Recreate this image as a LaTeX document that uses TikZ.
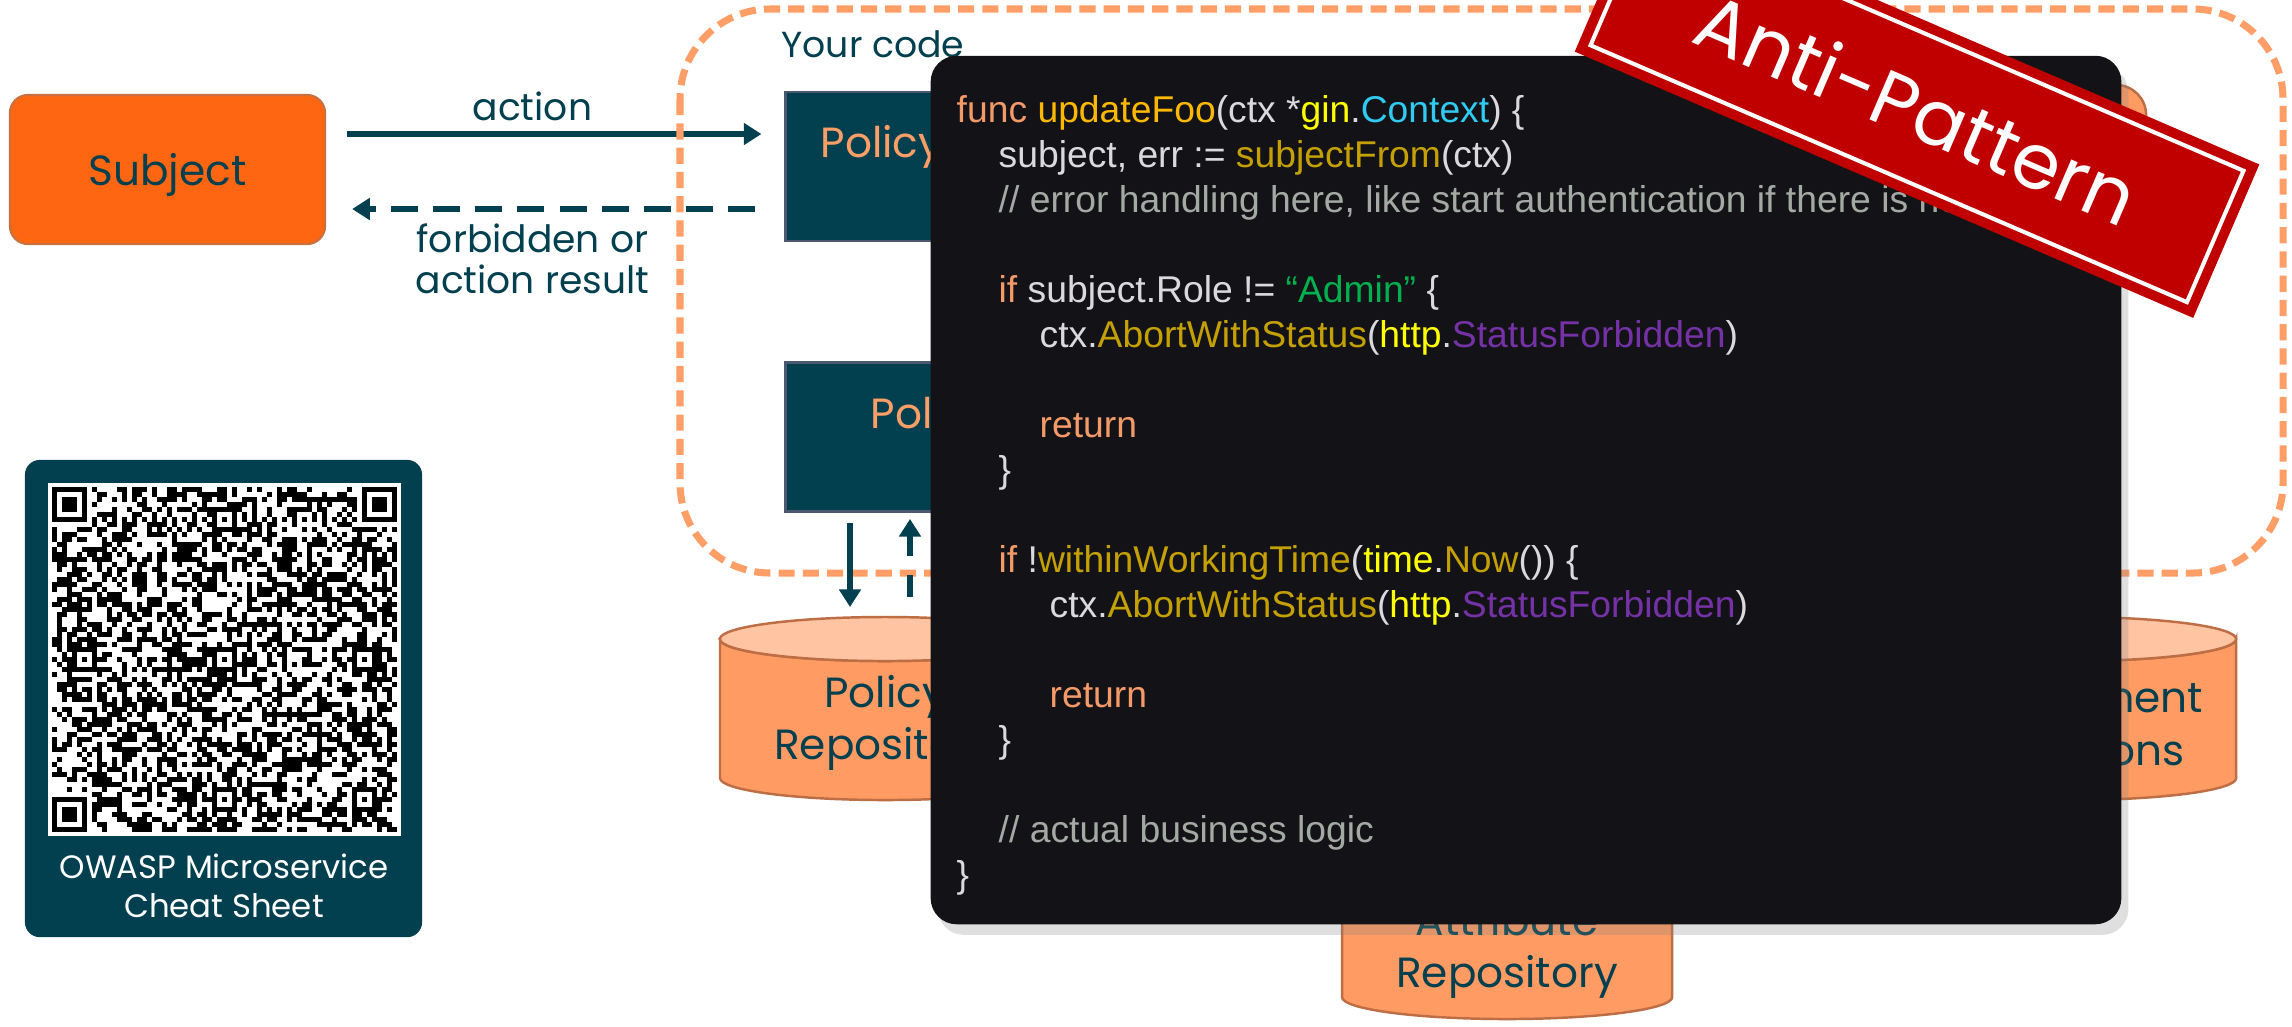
\documentclass[tikz,border=0pt]{standalone}
\usepackage{fontspec}
\setmainfont{Poppins}
\newfontfamily\codefont{Liberation Sans}
\usetikzlibrary{arrows.meta,shadows}

\definecolor{ink}{HTML}{03404F}
\definecolor{subjfill}{HTML}{FF6612}
\definecolor{subjline}{HTML}{C8703E}
\definecolor{peach}{HTML}{FF9E66}
\definecolor{cylbody}{HTML}{FF9B63}
\definecolor{cyltop}{HTML}{FFC4A2}
\definecolor{cylline}{HTML}{BE6E44}
\definecolor{boxline}{HTML}{4C5770}
\definecolor{cardbg}{HTML}{131317}
\definecolor{stampred}{HTML}{C00000}
\definecolor{gokw}{HTML}{F49A68}
\definecolor{gofn}{HTML}{FFB800}
\definecolor{gocall}{HTML}{C4A100}
\definecolor{gopkg}{HTML}{FFFF00}
\definecolor{gotyp}{HTML}{30CBF2}
\definecolor{gostr}{HTML}{00B050}
\definecolor{gocnst}{HTML}{7531A6}
\definecolor{gocmt}{HTML}{A3AAA3}
\definecolor{goplain}{HTML}{D9D9DE}

\newcommand{\gokw}[1]{\textcolor{gokw}{#1}}
\newcommand{\gofn}[1]{\textcolor{gofn}{#1}}
\newcommand{\gocall}[1]{\textcolor{gocall}{#1}}
\newcommand{\gopkg}[1]{\textcolor{gopkg}{#1}}
\newcommand{\gotyp}[1]{\textcolor{gotyp}{#1}}
\newcommand{\gostr}[1]{\textcolor{gostr}{#1}}
\newcommand{\gocnst}[1]{\textcolor{gocnst}{#1}}
\newcommand{\gocmt}[1]{\textcolor{gocmt}{#1}}

\begin{document}
\begin{tikzpicture}[x=0.01cm, y=-0.01cm,
    flow/.style={draw=ink, line width=1.7pt, -{Triangle[length=5pt,width=6pt]}},
    lbl/.style={text=ink, align=center, font=\fontsize{10.7}{11.7}\selectfont},
    subjbox/.style={fill=subjfill, draw=subjline, line width=0.6pt, rounded corners=0.18cm,
      minimum width=3.15cm, minimum height=1.49cm, text=ink, text depth=0pt, font=\fontsize{12}{15}\selectfont},
    pbox/.style={fill=ink, draw=boxline, line width=0.8pt, minimum width=5.14cm, minimum height=1.49cm},
    ptxt/.style={anchor=west, inner sep=0pt, text=peach, font=\fontsize{12}{15}\selectfont},
    cylside/.style={fill=cylbody, draw=cylline, line width=0.7pt},
    cyllid/.style={fill=cyltop, draw=cylline, line width=0.7pt},
    repotxt/.style={text=ink, align=center, inner sep=0pt, font=\fontsize{12}{15}\selectfont},
    code/.style={anchor=base west, inner sep=0pt, text=goplain, font=\codefont\fontsize{10.6}{12}\selectfont},
    stamp/.style={fill=stampred, minimum width=6.73cm, minimum height=1.67cm, inner sep=0pt,
      text=white, font=\fontsize{22}{26}\selectfont}]
  \useasboundingbox (0,0) rectangle (2292,1026);
  \fill[white] (0,0) rectangle (2292,1026);

  \node[fill=ink, rounded corners=0.15cm, minimum width=3.97cm, minimum height=4.77cm] (qr) at (223.5,698.5) {};
  \fill[white] (48,483) rectangle (401,836);
  \begin{scope}[shift={(52,487)}]
    \pgfmathsetseed{4711}
    \foreach \r in {0,...,68} {
      \foreach \c in {0,...,68} {
        \pgfmathparse{rnd<0.5}
        \ifdim\pgfmathresult pt>0.5pt \fill (\c*5,\r*5) rectangle ++(5.3,5.3);\fi
      }
    }
    \foreach \k in {8,10,...,60} {
      \fill (\k*5,30) rectangle ++(5.3,5.3);
      \fill (30,\k*5) rectangle ++(5.3,5.3);
    }
    \foreach \k in {9,11,...,59} {
      \fill[white] (\k*5,30) rectangle ++(5,5);
      \fill[white] (30,\k*5) rectangle ++(5,5);
    }
    \foreach \ac/\ar in {34/6, 6/34, 34/34, 62/34, 34/62, 62/62} {
      \fill (\ac*5-10,\ar*5-10) rectangle ++(25,25);
      \fill[white] (\ac*5-5,\ar*5-5) rectangle ++(15,15);
      \fill (\ac*5,\ar*5) rectangle ++(5,5);
    }
    \foreach \fc/\fr/\sc/\sr in {0/0/0/0, 62/0/61/0, 0/62/0/61} {
      \fill[white] (\sc*5,\sr*5) rectangle ++(40,40);
      \fill (\fc*5,\fr*5) rectangle ++(35,35);
      \fill[white] (\fc*5+5,\fr*5+5) rectangle ++(25,25);
      \fill (\fc*5+10,\fr*5+10) rectangle ++(15,15);
    }
  \end{scope}
  \node[text=white, align=center, font=\fontsize{9.2}{11.1}\selectfont] (qrT) at (224,886) {OWASP Microservice\\Cheat Sheet};

  \node[subjbox] (subject) at (167.5,169.5) {Subject};
  \node[pbox] (pep) at (1043,166.5) {};
  \node[pbox] (pdp) at (1043,437) {};
  \node[ptxt] (pepT) at (820,147) {Policy};
  \node[ptxt] (pdpT) at (870,418) {Policy};

  \coordinate (actY) at (0,134);
  \coordinate (resY) at (0,209);
  \path (subject.east |- actY) edge[flow, shorten <=0.21cm, shorten >=0.23cm]
    node[lbl, above=-0.5pt, pos=.45] (actT) {action} (pep.west |- actY);
  \path (pep.west |- resY) edge[flow, dash pattern=on 7.7pt off 4.3pt, shorten <=0.29cm, shorten >=0.26cm]
    node[lbl, below=0pt, pos=.55] (resT) {forbidden or\\action result} (subject.east |- resY);

  \draw[peach, line width=2pt, dash pattern=on 4.6pt off 2.3pt, rounded corners=0.9cm] (680,9) rectangle (2283,573);
  \node[lbl, font=\fontsize{10.3}{12}\selectfont] (zoneT) at (873,44) {Your code};

  \node[fill=cylbody, draw=cylline, line width=0.7pt, rounded corners=0.3cm,
    minimum width=2.66cm, minimum height=1.6cm] (pip) at (2013,165) {};

  \foreach \cx/\ct/\cb in {885/617/800, 2071/617/800, 1507/835/1019} {
    \path[cylside] (\cx-165,\ct+22) -- (\cx-165,\cb-22)
      arc[start angle=180, end angle=360, x radius=1.65cm, y radius=0.22cm] -- (\cx+165,\ct+22)
      arc[start angle=0, end angle=-180, x radius=1.65cm, y radius=0.22cm] -- cycle;
    \path[cyllid] (\cx,\ct+22) ellipse[x radius=1.65cm, y radius=0.22cm];
  }
  \coordinate (prepoTop) at (885,617);
  \node[repotxt] (prepo) at (885,723) {Policy\\Repository};
  \node[repotxt] (erepo) at (2071,723) {Environment\\Conditions};
  \node[repotxt] (arepo) at (1507,951) {Attribute\\Repository};

  \coordinate (dnX) at (850,0);
  \coordinate (upX) at (910,0);
  \path (pdp.south -| dnX) edge[flow, shorten <=0.1cm, shorten >=0.1cm] (prepoTop -| dnX);
  \path (prepoTop -| upX) edge[flow, dash pattern=on 6.2pt off 5.4pt, shorten <=0.2cm, shorten >=0.06cm] (pdp.south -| upX);

  \node[fill=cardbg, rounded corners=0.26cm, minimum width=11.9cm, minimum height=8.68cm,
    drop shadow={shadow xshift=2pt, shadow yshift=-3pt, opacity=0.25}] (card) at (1526,490) {};
  \node[code] (ln1) at (956,122) {\gokw{func} \gofn{updateFoo}(ctx *\gopkg{gin}.\gotyp{Context}) \{};
  \node[code] (ln2) at (998,167) {subject, err := \gocall{subjectFrom}(ctx)};
  \node[code] (ln3) at (998,212) {\gocmt{// error handling here, like start authentication if there is no}};
  \node[code] (ln5) at (998,302) {\gokw{if} subject.Role != \gostr{“Admin”} \{};
  \node[code] (ln6) at (1039,347) {ctx.\gocall{AbortWithStatus}(\gopkg{http}.\gocnst{StatusForbidden})};
  \node[code] (ln8) at (1039,437) {\gokw{return}};
  \node[code] (ln9) at (998,482) {\}};
  \node[code] (ln11) at (998,572) {\gokw{if} !\gocall{withinWorkingTime}(\gopkg{time}.\gocall{Now}()) \{};
  \node[code] (ln12) at (1049,617) {ctx.\gocall{AbortWithStatus}(\gopkg{http}.\gocnst{StatusForbidden})};
  \node[code] (ln14) at (1049,707) {\gokw{return}};
  \node[code] (ln15) at (998,752) {\}};
  \node[code] (ln17) at (998,842) {\gocmt{// actual business logic}};
  \node[code] (ln18) at (956,887) {\}};

  \node[stamp, rotate=-23.3] (stamp) at (1917,108) {Anti-Pattern};
  \node[draw=white, line width=1.15pt, minimum width=6.49cm, minimum height=1.43cm, rotate=-23.3] (stampF) at (stamp.center) {};
\end{tikzpicture}
\end{document}
